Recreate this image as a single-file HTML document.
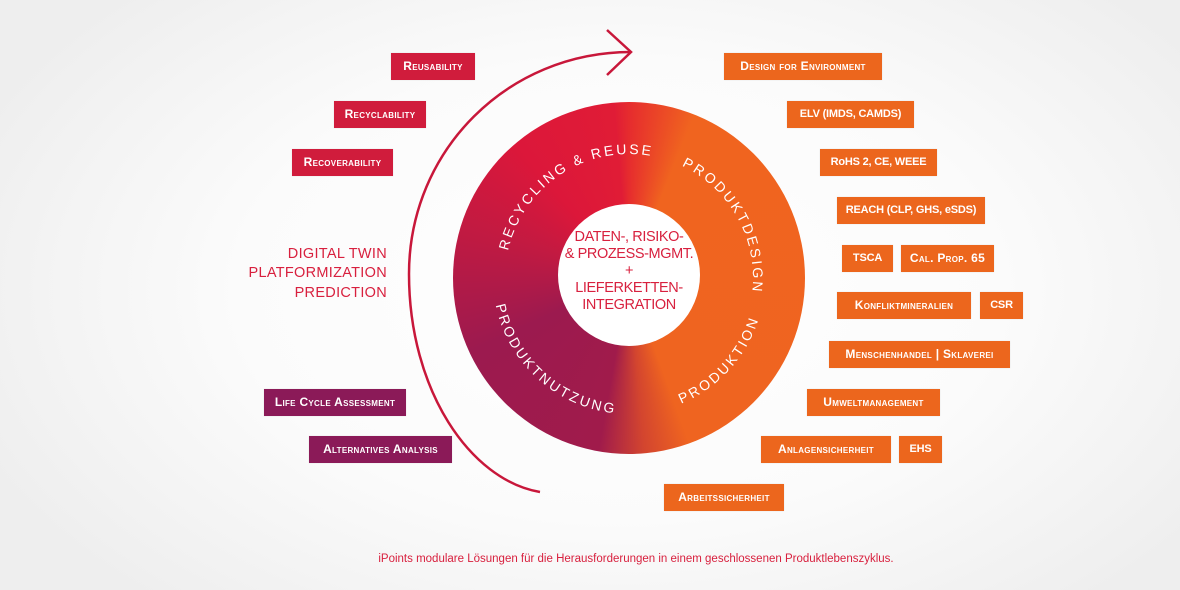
<!DOCTYPE html>
<html><head><meta charset="utf-8">
<style>
html,body{margin:0;padding:0}
body{width:1180px;height:590px;position:relative;overflow:hidden;font-family:"Liberation Sans",sans-serif;
background:radial-gradient(ellipse 700px 420px at 620px 290px,#ffffff 0%,#fbfbfb 55%,#eeeeee 100%);}
.b{position:absolute;height:27px;line-height:27px;color:#fff;font-weight:bold;font-size:12px;font-variant:small-caps;text-align:center;letter-spacing:0.3px;white-space:nowrap;box-shadow:0 0 1px rgba(0,0,0,0.15)}
.n{font-variant:normal;font-size:11px;font-weight:bold;letter-spacing:-0.2px}
.o{background:#ec661d}.r{background:#d01c3c}.p{background:#8b1a58}
.ring{position:absolute;left:453px;top:102px;width:352px;height:352px;border-radius:50%;
background:conic-gradient(from 0deg,#e62c2e 0deg,#f0641f 22deg,#ef6420 160deg,#d3452f 175deg,#a01b4b 190deg,#9c1a4f 245deg,#c01a42 285deg,#dc173a 320deg,#e01c36 355deg,#e62c2e 360deg);}
.hole{position:absolute;left:558px;top:204px;width:142px;height:142px;border-radius:50%;background:#fff}
.ct{position:absolute;left:548px;top:229px;width:162px;text-align:center;color:#d8203e;font-size:14.5px;line-height:17px;letter-spacing:-0.4px}
.lt{position:absolute;right:793px;color:#d8203e;font-size:14.5px;text-align:right;letter-spacing:0.3px}
</style></head><body>
<div class="ring"></div>
<div class="hole"></div>
<div class="ct">DATEN-, RISIKO-<br>&amp; PROZESS-MGMT.<br>+<br>LIEFERKETTEN-<br>INTEGRATION</div>
<svg width="1180" height="590" style="position:absolute;left:0;top:0">
<defs>
<path id="pt1" d="M 629 278 m -124 0 a 124 124 0 0 1 248 0 a 124 124 0 0 1 -248 0"/>
<path id="pt2" d="M 629 278 m -136 0 a 136 136 0 0 0 272 0"/>
</defs>
<path d="M631,52 C508,52 409,150 409,274 C409,390 470,480 540,492" fill="none" stroke="#c8173a" stroke-width="2.5"/>
<path d="M607,30 L631,52 L607,75" fill="none" stroke="#c8173a" stroke-width="2.5"/>
<g fill="#fff" font-size="14" letter-spacing="2.6" font-family="Liberation Sans, sans-serif">
<text><textPath href="#pt1" startOffset="15.8%" text-anchor="middle">RECYCLING &amp; REUSE</textPath></text>
<text><textPath href="#pt1" startOffset="42%" text-anchor="middle">PRODUKTDESIGN</textPath></text>
<text><textPath href="#pt2" startOffset="26.7%" text-anchor="middle">PRODUKTNUTZUNG</textPath></text>
<text><textPath href="#pt2" startOffset="76.5%" text-anchor="middle">PRODUKTION</textPath></text>
</g>
</svg>
<div class="b r" style="left:391px;top:53px;width:84px">Reusability</div>
<div class="b r" style="left:334px;top:101px;width:92px">Recyclability</div>
<div class="b r" style="left:292px;top:149px;width:101px">Recoverability</div>
<div class="lt" style="top:246px">DIGITAL TWIN</div>
<div class="lt" style="top:265px">PLATFORMIZATION</div>
<div class="lt" style="top:285px">PREDICTION</div>
<div class="b p" style="left:264px;top:389px;width:142px">Life Cycle Assessment</div>
<div class="b p" style="left:309px;top:436px;width:143px">Alternatives Analysis</div>
<div class="b o" style="left:724px;top:53px;width:158px">Design for Environment</div>
<div class="b o n" style="left:787px;top:101px;width:127px">ELV (IMDS, CAMDS)</div>
<div class="b o n" style="left:820px;top:149px;width:117px">RoHS 2, CE, WEEE</div>
<div class="b o n" style="left:837px;top:197px;width:148px">REACH (CLP, GHS, eSDS)</div>
<div class="b o n" style="left:842px;top:245px;width:51px">TSCA</div>
<div class="b o" style="left:901px;top:245px;width:93px">Cal. Prop. 65</div>
<div class="b o" style="left:837px;top:292px;width:134px">Konfliktmineralien</div>
<div class="b o n" style="left:980px;top:292px;width:43px">CSR</div>
<div class="b o" style="left:829px;top:341px;width:181px">Menschenhandel | Sklaverei</div>
<div class="b o" style="left:807px;top:389px;width:133px">Umweltmanagement</div>
<div class="b o" style="left:761px;top:436px;width:130px">Anlagensicherheit</div>
<div class="b o n" style="left:899px;top:436px;width:43px">EHS</div>
<div class="b o" style="left:664px;top:484px;width:120px">Arbeitssicherheit</div>
<div style="position:absolute;left:353px;top:553px;width:566px;text-align:center;color:#d8203e;font-size:11.5px;white-space:nowrap">iPoints modulare Lösungen für die Herausforderungen in einem geschlossenen Produktlebenszyklus.</div>
</body></html>
